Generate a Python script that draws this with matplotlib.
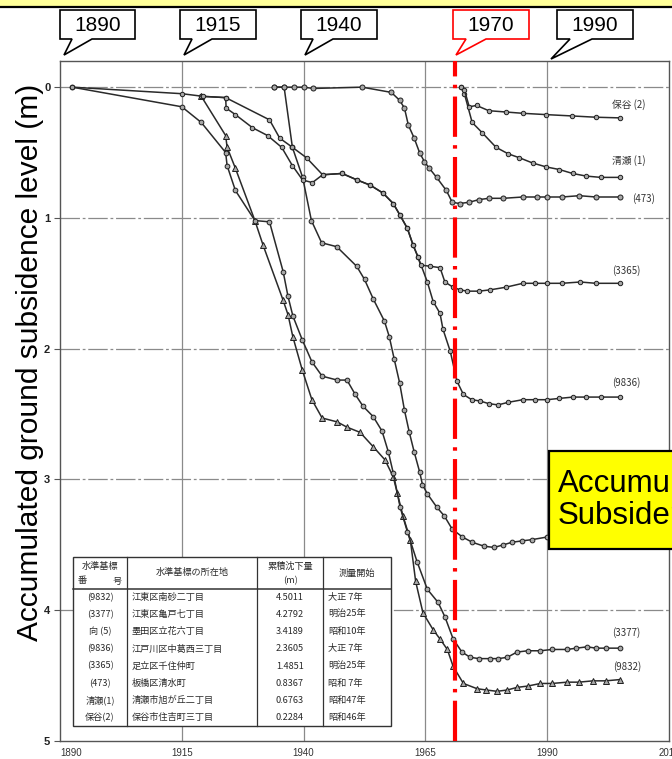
import matplotlib
matplotlib.use('Agg')
import matplotlib.pyplot as plt
from matplotlib.patches import Rectangle, Polygon
from matplotlib.lines import Line2D

plt.rcParams['lines.scale_dashes'] = False

W, H = 672, 759
JP = ['Noto Sans CJK JP', 'DejaVu Sans']
SANS = ['Liberation Sans', 'DejaVu Sans']

# ---------------- data (year, accumulated subsidence in m) ----------------
years_9832 = [1919.0, 1924.0, 1924.3, 1926.0, 1930.0, 1931.7, 1935.8, 1936.8, 1937.8, 1939.7,
              1941.7, 1943.8, 1946.9, 1948.9, 1951.6, 1954.3, 1956.7, 1958.4, 1959.2, 1960.4,
              1961.9, 1963.0, 1964.5, 1966.6, 1968.0, 1969.5, 1970.7, 1972.8, 1975.6, 1977.5,
              1979.7, 1981.8, 1983.8, 1986.0, 1988.6, 1991.0, 1994.1, 1996.5, 1999.4, 2002.0, 2005.0]
depth_9832 = [0.07, 0.37, 0.46, 0.62, 1.02, 1.21, 1.63, 1.74, 1.91, 2.16,
              2.39, 2.53, 2.56, 2.60, 2.64, 2.75, 2.85, 2.98, 3.10, 3.28,
              3.46, 3.78, 4.02, 4.15, 4.22, 4.30, 4.43, 4.56, 4.60, 4.61,
              4.62, 4.61, 4.59, 4.58, 4.56, 4.56, 4.55, 4.55, 4.54, 4.54, 4.53]

years_3377 = [1892.5, 1915.0, 1919.0, 1924.0, 1924.3, 1926.0, 1930.0, 1933.0, 1935.8, 1936.8,
              1937.8, 1939.7, 1941.7, 1943.8, 1946.9, 1948.9, 1950.6, 1952.2, 1954.3, 1956.1,
              1957.4, 1958.4, 1959.8, 1961.3, 1963.3, 1965.4, 1967.6, 1969.0, 1970.7, 1972.5,
              1974.2, 1976.0, 1978.3, 1980.0, 1981.8, 1983.8, 1986.0, 1988.6, 1991.0, 1994.1,
              1996.0, 1998.2, 2000.0, 2002.0, 2005.0]
depth_3377 = [0.00, 0.15, 0.27, 0.50, 0.60, 0.79, 1.02, 1.03, 1.41, 1.60,
              1.75, 1.93, 2.10, 2.21, 2.24, 2.24, 2.35, 2.44, 2.52, 2.63,
              2.79, 2.95, 3.21, 3.40, 3.63, 3.84, 3.94, 4.05, 4.22, 4.32,
              4.36, 4.37, 4.37, 4.37, 4.36, 4.32, 4.31, 4.31, 4.30, 4.30,
              4.29, 4.28, 4.29, 4.29, 4.29]

years_muko5 = [1934.0, 1936.0, 1937.7, 1939.8, 1941.6, 1943.7, 1946.8, 1950.9, 1952.5, 1954.3,
               1956.6, 1957.6, 1958.6, 1959.7, 1960.7, 1961.7, 1962.7, 1963.8, 1964.4, 1965.4,
               1967.3, 1968.9, 1970.5, 1972.6, 1974.6, 1977.0, 1979.1, 1981.0, 1982.8, 1984.8,
               1986.9, 1990.0, 1995.0, 2000.0, 2005.0]
depth_muko5 = [0.00, 0.00, 0.46, 0.69, 1.02, 1.19, 1.22, 1.37, 1.47, 1.62,
               1.79, 1.91, 2.08, 2.26, 2.47, 2.64, 2.79, 2.94, 3.04, 3.11,
               3.21, 3.28, 3.38, 3.44, 3.48, 3.51, 3.52, 3.50, 3.48, 3.47,
               3.46, 3.44, 3.43, 3.42, 3.42]

years_9836 = [1919.0, 1924.0, 1924.1, 1926.0, 1929.5, 1932.6, 1935.5, 1937.7, 1939.8, 1941.8,
              1943.9, 1947.9, 1951.0, 1953.7, 1956.3, 1958.4, 1959.8, 1961.3, 1962.5, 1963.5,
              1965.4, 1966.6, 1968.0, 1968.6, 1970.1, 1971.5, 1972.8, 1974.5, 1976.2, 1978.0,
              1979.9, 1982.0, 1985.0, 1987.5, 1990.0, 1992.5, 1995.3, 1998.0, 2001.0, 2005.0]
depth_9836 = [0.07, 0.08, 0.16, 0.21, 0.31, 0.37, 0.46, 0.60, 0.71, 0.73,
              0.67, 0.66, 0.71, 0.75, 0.81, 0.89, 0.98, 1.08, 1.21, 1.30,
              1.49, 1.64, 1.73, 1.85, 2.02, 2.25, 2.35, 2.39, 2.40, 2.42,
              2.43, 2.41, 2.39, 2.39, 2.39, 2.38, 2.37, 2.37, 2.37, 2.37]

years_3365 = [1892.5, 1915.0, 1919.3, 1924.0, 1933.0, 1935.1, 1937.7, 1940.6, 1943.9, 1947.9,
              1951.0, 1953.7, 1956.3, 1958.4, 1959.8, 1961.3, 1962.5, 1963.5, 1964.0, 1966.0,
              1968.0, 1969.0, 1970.7, 1972.1, 1973.6, 1976.0, 1978.3, 1981.5, 1985.0, 1987.5,
              1990.0, 1993.0, 1996.8, 2000.0, 2005.0]
depth_3365 = [0.00, 0.05, 0.07, 0.08, 0.25, 0.39, 0.46, 0.54, 0.67, 0.66,
              0.71, 0.75, 0.81, 0.89, 0.98, 1.08, 1.21, 1.30, 1.36, 1.37,
              1.38, 1.49, 1.53, 1.55, 1.56, 1.56, 1.55, 1.53, 1.50, 1.50,
              1.50, 1.50, 1.49, 1.50, 1.50]

years_473 = [1934.0, 1936.0, 1938.0, 1940.0, 1942.0, 1952.0, 1958.0, 1959.7, 1960.7, 1961.5,
             1962.7, 1963.8, 1964.8, 1965.8, 1967.3, 1969.3, 1970.5, 1972.0, 1974.0, 1976.0,
             1978.0, 1981.0, 1985.0, 1988.0, 1990.0, 1993.0, 1996.6, 2000.0, 2005.0]
depth_473 = [0.00, 0.00, 0.00, 0.00, 0.01, 0.00, 0.04, 0.10, 0.16, 0.29,
             0.39, 0.50, 0.57, 0.62, 0.69, 0.79, 0.88, 0.89, 0.88, 0.86,
             0.85, 0.85, 0.84, 0.84, 0.84, 0.84, 0.83, 0.84, 0.84]

years_kiyose1 = [1972.3, 1973.0, 1974.6, 1976.7, 1979.5, 1982.0, 1984.3, 1987.0, 1989.8, 1992.5,
                 1995.2, 1998.0, 2001.0, 2005.0]
depth_kiyose1 = [0.00, 0.05, 0.27, 0.35, 0.46, 0.51, 0.54, 0.58, 0.61, 0.63,
                 0.66, 0.68, 0.69, 0.69]

years_hoya2 = [1972.3, 1973.0, 1974.0, 1975.5, 1978.0, 1981.5, 1985.0, 1989.8, 1995.0, 2000.0, 2005.0]
depth_hoya2 = [0.00, 0.02, 0.15, 0.14, 0.18, 0.19, 0.20, 0.21, 0.22, 0.23, 0.235]

# right-hand curve labels: (text, x-year, depth)
curve_labels = ['保谷 (2)', '清瀬 (1)', '(473)', '(3365)', '(9836)', '(3377)', '(9832)']
curve_label_x = [2003.3, 2003.3, 2007.4, 2003.3, 2003.3, 2003.3, 2003.5]
curve_label_y = [0.13, 0.56, 0.85, 1.40, 2.26, 4.17, 4.43]

# table
table_header = ['水準基標', '水準基標の所在地', '累積沈下量', '測量開始']
table_ids = ['(9832)', '(3377)', '向 (5)', '(9836)', '(3365)', '(473)', '清瀬(1)', '保谷(2)']
table_places = ['江東区南砂二丁目', '江東区亀戸七丁目', '墨田区立花六丁目', '江戸川区中葛西三丁目',
                '足立区千住仲町', '板橋区清水町', '清瀬市旭が丘二丁目', '保谷市住吉町三丁目']
table_values = ['4.5011', '4.2792', '3.4189', '2.3605', '1.4851', '0.8367', '0.6763', '0.2284']
table_start = ['大正 7年', '明治25年', '昭和10年', '大正 7年', '明治25年', '昭和 7年', '昭和47年', '昭和46年']

callout_years = ['1890', '1915', '1940', '1970', '1990']
x_ticks = [1890, 1915, 1940, 1965, 1990, 2015]
y_ticks = [0, 1, 2, 3, 4, 5]
marker_year = 1971

# ---------------- figure ----------------
fig = plt.figure(figsize=(W / 100, H / 100), dpi=100)
fig.patch.set_facecolor('white')


def fx(x):
    return x / W


def fy(y):
    return 1 - y / H


ax_l, ax_r, ax_t, ax_b = 60, 669, 61, 741
ax = fig.add_axes([fx(ax_l), fy(ax_b), (ax_r - ax_l) / W, (ax_b - ax_t) / H])
ax.set_xlim(1890, 2015)
ax.set_ylim(5.0, -0.2)

for v in [1915, 1940, 1965, 1990]:
    ax.axvline(v, color='#8a8a8a', lw=0.9, zorder=1)
for h in [0, 1, 2, 3, 4]:
    ax.axhline(h, color='#8a8a8a', lw=0.9, dashes=(14, 2, 2, 2), zorder=1)

line_kw = dict(color='#2a2a2a', lw=1.1, zorder=3)
mk_kw = dict(mfc='#a8a8a8', mec='#1e1e1e', mew=0.7)
ax.plot(years_9832, depth_9832, marker='^', ms=3.8, **mk_kw, **line_kw)
ax.plot(years_3377, depth_3377, marker='o', ms=3.4, **mk_kw, **line_kw)
ax.plot(years_muko5, depth_muko5, marker='o', ms=3.4, **mk_kw, **line_kw)
ax.plot(years_9836, depth_9836, marker='o', ms=3.2, **mk_kw, **line_kw)
ax.plot(years_3365, depth_3365, marker='o', ms=3.2, **mk_kw, **line_kw)
ax.plot(years_473, depth_473, marker='o', ms=3.6, **mk_kw, **line_kw)
ax.plot(years_kiyose1, depth_kiyose1, marker='o', ms=3.2, **mk_kw, **line_kw)
ax.plot(years_hoya2, depth_hoya2, marker='o', ms=3.2, **mk_kw, **line_kw)

for t, xv, yv in zip(curve_labels, curve_label_x, curve_label_y):
    ax.text(xv, yv, t, fontsize=7, family=JP, color='#333333', ha='left', va='center', zorder=4)

ax.axvline(marker_year, color='#ff0000', lw=3.0, dashes=(29, 6, 2.5, 6), zorder=6)

ax.set_xticks(x_ticks)
ax.set_xticklabels([str(v) for v in x_ticks], fontsize=7, color='#333333', family=SANS)
ax.get_xticklabels()[0].set_horizontalalignment('left')
ax.set_yticks(y_ticks)
ax.set_yticklabels([str(v) for v in y_ticks], fontsize=8, color='#222222', family=SANS, fontweight='bold')
ax.tick_params(axis='x', length=0, pad=5)
ax.tick_params(axis='y', length=4, width=0.8, color='#555555', pad=3)
for s in ax.spines.values():
    s.set_color('#555555')
    s.set_linewidth(1.0)

fig.text(fx(30), fy(362), 'Accumulated ground subsidence level (m)', fontsize=21.5, family=SANS,
         rotation=90, ha='center', va='center', color='black')

# ---------------- top strip ----------------
fig.patches.append(Rectangle((0, fy(6)), 1, 6 / H, transform=fig.transFigure,
                             fc='#ffff99', ec='none', zorder=5))
fig.lines.append(Line2D([0, 1], [fy(7), fy(7)], transform=fig.transFigure,
                        color='black', lw=1.6, zorder=6))

# ---------------- callouts ----------------
callout_geom = [
    (60, 135, 72, 92, 64, 55, 'black'),
    (180, 256, 192, 212, 184, 55, 'black'),
    (301, 377, 313, 333, 305, 55, 'black'),
    (453, 529, 466, 486, 456, 55, '#ff0000'),
    (557, 633, 570, 592, 551, 59, 'black'),
]
cy0, cy1 = 10, 39
for lab, (x0, x1, b1, b2, tx, ty, col) in zip(callout_years, callout_geom):
    pts = [(x0, cy0), (x1, cy0), (x1, cy1), (b2, cy1), (tx, ty), (b1, cy1), (x0, cy1)]
    poly = Polygon([(fx(a), fy(b)) for a, b in pts], closed=True, transform=fig.transFigure,
                   fc='white', ec=col, lw=1.2, zorder=7)
    fig.patches.append(poly)
    fig.text(fx((x0 + x1) / 2), fy((cy0 + cy1) / 2 + 1), lab, fontsize=15, family=SANS,
             ha='center', va='center', color='black', zorder=8)

# ---------------- table ----------------
tx0, tx1, tx2, tx3, tx4 = 73, 127, 257, 323, 391
ty0, tyh, ty1 = 557, 589, 726
fig.patches.append(Rectangle((fx(tx0), fy(ty1)), (tx4 - tx0) / W, (ty1 - ty0) / H,
                             transform=fig.transFigure, fc='white', ec='#333333', lw=1.0, zorder=7))


def hline(y, x0, x1, lw=0.9):
    fig.lines.append(Line2D([fx(x0), fx(x1)], [fy(y), fy(y)], transform=fig.transFigure,
                            color='#333333', lw=lw, zorder=8))


def vline(x, y0, y1, lw=0.9):
    fig.lines.append(Line2D([fx(x), fx(x)], [fy(y0), fy(y1)], transform=fig.transFigure,
                            color='#333333', lw=lw, zorder=8))


hline(tyh, tx0, tx4, 1.1)
for xv in [tx1, tx2, tx3]:
    vline(xv, ty0, ty1)

tk = dict(fontsize=6.6, family=JP, color='#2a2a2a', zorder=9)
fig.text(fx((tx0 + tx1) / 2), fy(566), table_header[0], ha='center', va='center', **tk)
fig.text(fx(tx0 + 5), fy(581), '番', ha='left', va='center', **tk)
fig.text(fx(tx1 - 5), fy(581), '号', ha='right', va='center', **tk)
fig.text(fx((tx1 + tx2) / 2), fy(573), table_header[1], ha='center', va='center', **tk)
fig.text(fx((tx2 + tx3) / 2), fy(566), table_header[2], ha='center', va='center', **tk)
fig.text(fx((tx2 + tx3) / 2), fy(581), '(m)', ha='center', va='center', **tk)
fig.text(fx((tx3 + tx4) / 2), fy(573), table_header[3], ha='center', va='center', **tk)

row_h = (ty1 - tyh) / len(table_ids)
for i in range(len(table_ids)):
    yc = tyh + row_h * (i + 0.5)
    fig.text(fx((tx0 + tx1) / 2), fy(yc), table_ids[i], ha='center', va='center', **tk)
    fig.text(fx(tx1 + 5), fy(yc), table_places[i], ha='left', va='center', **tk)
    fig.text(fx((tx2 + tx3) / 2), fy(yc), table_values[i], ha='center', va='center', **tk)
    fig.text(fx(tx3 + 5), fy(yc), table_start[i], ha='left', va='center', **tk)

# ---------------- yellow note box ----------------
fig.patches.append(Rectangle((fx(549), fy(549)), (720 - 549) / W, (549 - 451) / H,
                             transform=fig.transFigure, fc='#ffff00', ec='black', lw=1.6, zorder=9))
fig.text(fx(558), fy(500), 'Accumulated\nSubsidence', fontsize=22.5, family=SANS,
         ha='left', va='center', color='black', linespacing=1.1, zorder=10)

fig.savefig('out.png', dpi=100)
